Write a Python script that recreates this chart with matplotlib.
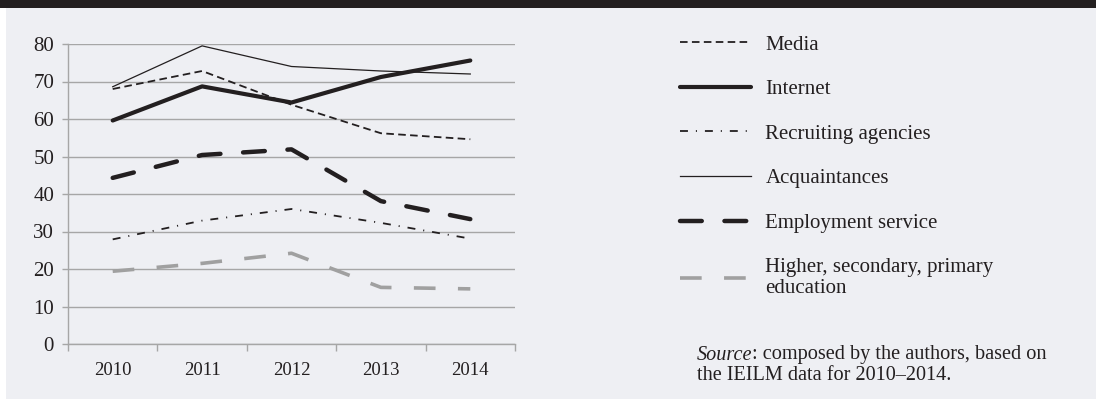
import matplotlib
matplotlib.use("Agg")
import matplotlib.pyplot as plt
from matplotlib.patches import Rectangle

years = ["2010", "2011", "2012", "2013", "2014"]
media = [68.0, 72.8, 63.8, 56.2, 54.6]
internet = [59.6, 68.7, 64.4, 71.2, 75.6]
recruiting = [27.9, 32.9, 36.0, 32.3, 28.1]
acquaintances = [68.6, 79.5, 74.0, 72.8, 72.0]
employment = [44.3, 50.4, 51.9, 38.1, 33.3]
education = [19.4, 21.5, 24.2, 15.1, 14.7]

yticks = [0, 10, 20, 30, 40, 50, 60, 70, 80]
source_lines = ["composed by the authors, based on",
                "the IEILM data for 2010\u20132014."]

ink = "#231f20"
axis_gray = "#a6a6a6"
bg = "#eeeff3"

plt.rcParams["font.family"] = ["Liberation Serif", "DejaVu Serif"]

W, H = 1096, 401
fig = plt.figure(figsize=(W / 100, H / 100), dpi=100)
fig.patch.set_facecolor("white")
# panel background and dark title band
fig.patches.append(Rectangle((6 / W, 2 / H), 1 - 6 / W, 1 - 2 / H,
                             transform=fig.transFigure, facecolor=bg,
                             edgecolor="none", zorder=-2))
fig.patches.append(Rectangle((0, 1 - 8 / H), 1, 8 / H,
                             transform=fig.transFigure, facecolor=ink,
                             edgecolor="none", zorder=-1))

ax = fig.add_axes([68 / W, 1 - 344 / H, (515 - 68) / W, 300 / H])
ax.set_facecolor("none")

x = list(range(len(years)))
ax.plot(x, acquaintances, color=ink, lw=0.9, label="Acquaintances", zorder=3)
ax.plot(x, media, color=ink, lw=1.3, dashes=(4.2, 2.4), label="Media", zorder=3)
ax.plot(x, internet, color=ink, lw=3.0, solid_capstyle="round",
        label="Internet", zorder=4)
ax.plot(x, recruiting, color=ink, lw=1.3, dashes=(4.4, 4.4, 0.6, 4.4),
        label="Recruiting agencies", zorder=3)
ax.plot(x, employment, color=ink, lw=3.2, dashes=(4.9, 5.1),
        dash_capstyle="round", label="Employment service", zorder=3)
ax.plot(x, education, color="#a0a0a0", lw=2.6, dashes=(6.0, 6.2),
        label="Higher, secondary, primary\neducation", zorder=3)

ax.set_xlim(-0.5, len(years) - 0.5)
ax.set_ylim(0, 80)
ax.set_yticks(yticks)
ax.yaxis.grid(True, color=axis_gray, lw=1.0)
ax.set_axisbelow(True)

ax.set_xticks([i - 0.5 for i in range(len(years) + 1)])
ax.set_xticklabels([])
ax.set_xticks(x, minor=True)
ax.set_xticklabels(years, minor=True)
ax.tick_params(axis="x", which="major", length=5, color=axis_gray, width=1)
ax.tick_params(axis="x", which="minor", length=0, pad=13, labelsize=13.5,
               labelcolor=ink)
ax.tick_params(axis="y", length=4, color=axis_gray, width=1, pad=6,
               labelsize=15, labelcolor=ink)

for s in ["top", "right"]:
    ax.spines[s].set_visible(False)
for s in ["left", "bottom"]:
    ax.spines[s].set_color(axis_gray)
    ax.spines[s].set_linewidth(1.0)

handles, labels = ax.get_legend_handles_labels()
order = ["Media", "Internet", "Recruiting agencies", "Acquaintances",
         "Employment service", "Higher, secondary, primary\neducation"]
hl = dict(zip(labels, handles))
leg = fig.legend([hl[k] for k in order], order, loc="upper left",
                 bbox_to_anchor=(680 / W, 1 - 35 / H), frameon=False,
                 fontsize=15, handlelength=3.4, handletextpad=0.7,
                 labelspacing=1.2, borderaxespad=0, borderpad=0)
for t in leg.get_texts():
    t.set_color(ink)
    t.set_linespacing(1.15)

# source note: italic word followed by regular text
src = fig.text(697 / W, 1 - 355 / H, "Source", style="italic",
               fontsize=14.6, color=ink, va="center", ha="left")
fig.canvas.draw()
x1 = src.get_window_extent().x1 / fig.bbox.width
fig.text(x1, 1 - 355 / H, ": " + source_lines[0], fontsize=14.6,
         color=ink, va="center", ha="left")
fig.text(697 / W, 1 - 376 / H, source_lines[1], fontsize=14.6,
         color=ink, va="center", ha="left")

fig.savefig("out.png", dpi=100, facecolor=fig.get_facecolor())
